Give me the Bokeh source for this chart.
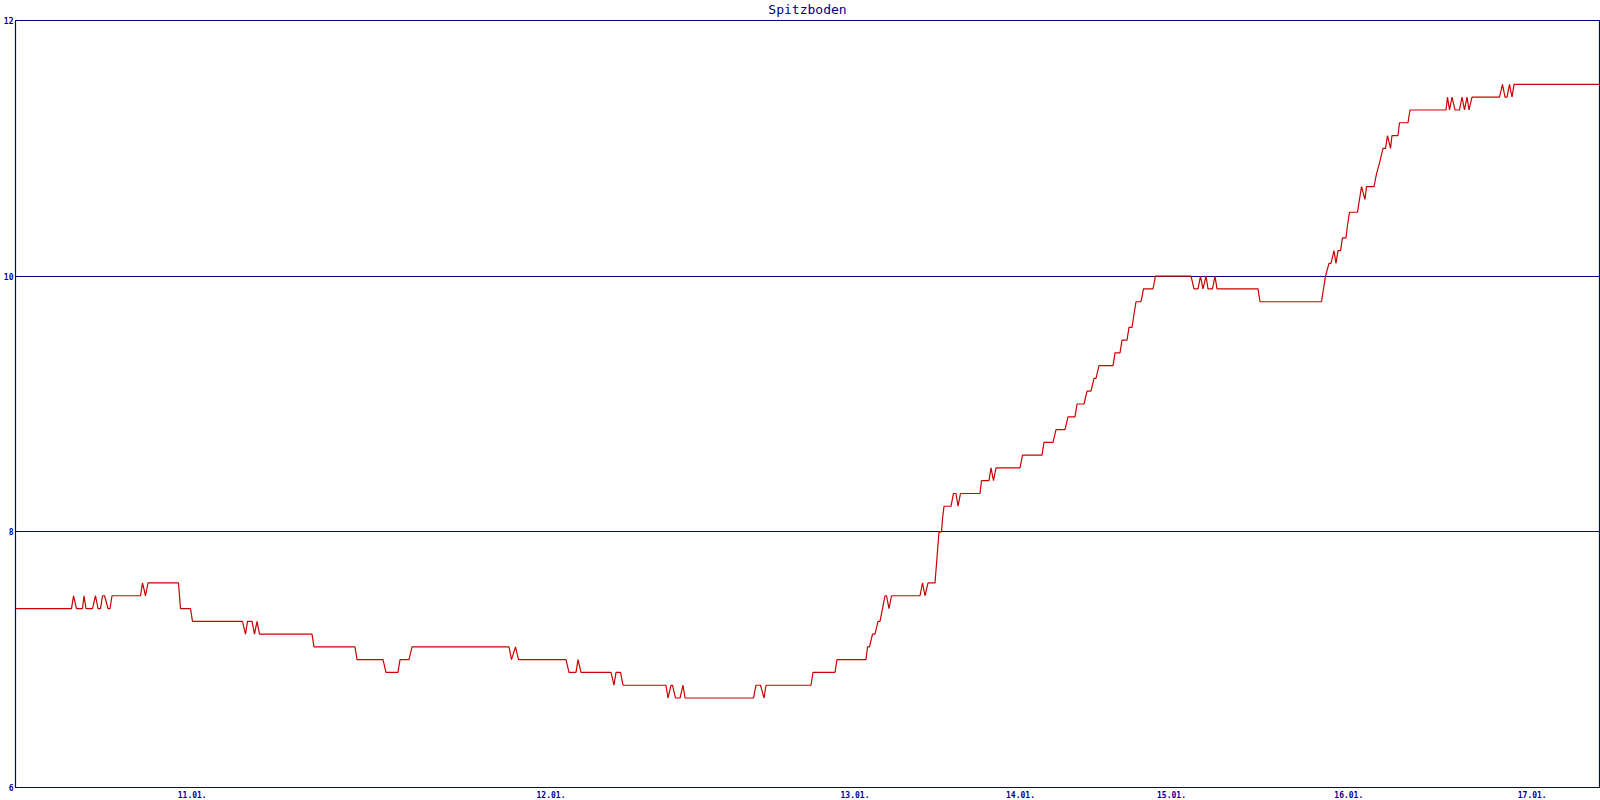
from bokeh.plotting import figure
from bokeh.models import Range1d, FixedTicker
from bokeh.embed import file_html
from bokeh.resources import INLINE

chart_title = "Spitzboden"

# measurement number (irregular sampling) and temperature in degC
sample = [
    0, 56, 58, 61, 67, 68.5, 70.5, 77, 80, 82.5, 85, 87, 89, 92.5, 94.5, 96.5,
    125, 127, 130, 132.5, 163, 164, 165, 175, 177, 227, 230, 232, 236.5, 239,
    241.5, 244, 296.5, 298.5, 339.5, 341.5, 367.5, 370.5, 382.5, 384.5, 393.5,
    396.5, 493.5, 496, 500, 503, 550.5, 553.5, 560.5, 562.5, 565.5, 595.5,
    598.5, 600.5, 605, 607.5, 650.5, 652.5, 655.5, 657, 660, 664.5, 667.5,
    669.5, 738, 740.5, 745, 748.5, 750.5, 795.5, 797.5, 819.5, 821.5, 850.5,
    852, 854, 857, 859.5, 862.5, 864.5, 867, 869.5, 871, 873.5, 876, 904.5,
    907, 909.5, 912.5, 919.5, 920.5, 921.5, 922.5, 923.5, 926, 927, 928.5,
    935.5, 938, 940.5, 942.5, 945, 964.5, 966, 973.5, 975.5, 978, 980.5,
    1004.5, 1007, 1026.5, 1028.5, 1037.5, 1040.5, 1049.5, 1052.5, 1059.5,
    1061.5, 1068.5, 1071.5, 1075.5, 1078.5, 1080.5, 1083.5, 1097.5, 1099.5,
    1104.5, 1106.5, 1111.5, 1113.5, 1116.5, 1118.5, 1120.5, 1125.5, 1128,
    1137.5, 1140, 1175.5, 1178.5, 1182.5, 1185, 1187.5, 1190.5, 1192.5, 1197,
    1199.5, 1201.5, 1242.5, 1244.5, 1306, 1308, 1310, 1313.5, 1315.5, 1318.5,
    1320.5, 1322.5, 1325, 1327, 1330.5, 1332, 1334, 1342, 1344, 1346, 1349.5,
    1351, 1358.5, 1361, 1364.5, 1367.5, 1370, 1372, 1375, 1376.5, 1382.5,
    1384, 1392.5, 1394.5, 1430.5, 1432, 1434, 1436.5, 1439.5, 1444, 1446.5,
    1449, 1451.5, 1453.5, 1456.5, 1484, 1487, 1489.5, 1491.5, 1494, 1496.5,
    1498.5, 1583.5,
]
temp = [
    7.4, 7.4, 7.5, 7.4, 7.4, 7.5, 7.4, 7.4, 7.5, 7.4, 7.4, 7.5, 7.5, 7.4, 7.4, 7.5,
    7.5, 7.6, 7.5, 7.6, 7.6, 7.5, 7.4, 7.4, 7.3, 7.3, 7.2, 7.3, 7.3, 7.2,
    7.3, 7.2, 7.2, 7.1, 7.1, 7.0, 7.0, 6.9, 6.9, 7.0, 7.0,
    7.1, 7.1, 7.0, 7.1, 7.0, 7.0, 6.9, 6.9, 7.0, 6.9, 6.9,
    6.8, 6.9, 6.9, 6.8, 6.8, 6.7, 6.8, 6.8, 6.7, 6.7, 6.8,
    6.7, 6.7, 6.8, 6.8, 6.7, 6.8, 6.8, 6.9, 6.9, 7.0, 7.0,
    7.1, 7.1, 7.2, 7.2, 7.3, 7.3, 7.4, 7.5, 7.5, 7.4, 7.5, 7.5,
    7.6, 7.5, 7.6, 7.6, 7.7, 7.8, 7.9, 8.0, 8.0, 8.1, 8.2,
    8.2, 8.3, 8.3, 8.2, 8.3, 8.3, 8.4, 8.4, 8.5, 8.4, 8.5,
    8.5, 8.6, 8.6, 8.7, 8.7, 8.8, 8.8, 8.9, 8.9,
    9.0, 9.0, 9.1, 9.1, 9.2, 9.2, 9.3, 9.3, 9.4,
    9.4, 9.5, 9.5, 9.6, 9.6, 9.7, 9.8, 9.8, 9.9,
    9.9, 10.0, 10.0, 9.9, 9.9, 10.0, 9.9, 10.0, 9.9, 9.9,
    10.0, 9.9, 9.9, 9.8, 9.8, 9.9, 10.0, 10.1, 10.1, 10.2,
    10.1, 10.2, 10.2, 10.3, 10.3, 10.4, 10.5, 10.5, 10.6, 10.7, 10.6,
    10.7, 10.7, 10.8, 10.9, 11.0, 11.0, 11.1, 11.0, 11.1, 11.1,
    11.2, 11.2, 11.3, 11.3, 11.4, 11.3, 11.4, 11.3, 11.3, 11.4,
    11.3, 11.4, 11.3, 11.4, 11.4, 11.5, 11.4, 11.4, 11.5, 11.4,
    11.5, 11.5,
]

day_ticks = [176.7, 535.5, 839.5, 1005, 1156, 1333.3, 1516.7]
day_labels = ["11.01.", "12.01.", "13.01.", "14.01.", "15.01.", "16.01.", "17.01."]
y_ticks = [6, 8, 10, 12]
grid_ticks = [8, 10]

NAVY = "#00008b"
RED = "#cc0000"

p = figure(width=1600, height=800, output_backend="svg", toolbar_location=None,
           x_range=Range1d(0, 1584), y_range=Range1d(6, 12),
           min_border_left=15, min_border_right=1, min_border_top=20,
           min_border_bottom=13, title=chart_title)

p.title.align = "center"
p.title.vertical_align = "top"
p.title.text_font = "DejaVu Sans Mono"
p.title.text_font_style = "normal"
p.title.text_font_size = "13px"
p.title.text_color = NAVY
p.title.standoff = 3
p.title.offset = 0

p.background_fill_color = "white"
p.border_fill_color = "white"
p.outline_line_color = NAVY
p.outline_line_width = 1.2
p.outline_line_alpha = 1.0

p.line(sample, temp, line_color=RED, line_width=1.2)

for ax in (p.xaxis[0], p.yaxis[0]):
    ax.axis_line_color = None
    ax.major_tick_line_color = None
    ax.minor_tick_line_color = None
    ax.major_tick_out = 0
    ax.major_tick_in = 0
    ax.minor_tick_out = 0
    ax.minor_tick_in = 0
    ax.major_label_text_font = "DejaVu Sans Mono"
    ax.major_label_text_font_style = "bold"
    ax.major_label_text_font_size = "8px"
    ax.major_label_text_color = NAVY

p.xaxis.ticker = FixedTicker(ticks=day_ticks)
p.xaxis.major_label_overrides = {t: l for t, l in zip(day_ticks, day_labels)}
p.xaxis.major_label_standoff = 3
p.yaxis.ticker = FixedTicker(ticks=y_ticks)
p.yaxis.major_label_standoff = 2

p.xgrid.visible = False
p.ygrid.ticker = FixedTicker(ticks=grid_ticks)
p.ygrid.grid_line_color = NAVY
p.ygrid.grid_line_width = 1.2
p.ygrid.grid_line_alpha = 1.0

open("out.html", "w").write(file_html(p, INLINE))
